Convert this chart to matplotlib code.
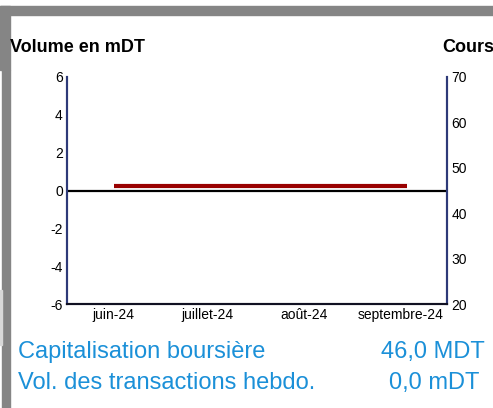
import numpy as np
import matplotlib
matplotlib.use('Agg')
import matplotlib.pyplot as plt
from matplotlib.patches import Rectangle
import datetime as dt

plt.rcParams['font.family'] = ['Liberation Sans', 'DejaVu Sans']
plt.rcParams['axes.unicode_minus'] = False

# weekly data
dates = ['2024-06-01', '2024-06-08', '2024-06-15', '2024-06-22', '2024-06-29',
         '2024-07-06', '2024-07-13', '2024-07-20', '2024-07-27', '2024-08-03',
         '2024-08-10', '2024-08-17', '2024-08-24', '2024-08-31', '2024-09-03']
cours = [46.0, 46.0, 46.0, 46.0, 46.0, 46.0, 46.0, 46.0, 46.0, 46.0,
         46.0, 46.0, 46.0, 46.0, 46.0]
volume = [0.0, 0.0, 0.0, 0.0, 0.0, 0.0, 0.0, 0.0, 0.0, 0.0,
          0.0, 0.0, 0.0, 0.0, 0.0]
month_ticks = ['2024-06-01', '2024-07-01', '2024-08-01', '2024-09-01']
month_labels = ['juin-24', 'juillet-24', 'août-24', 'septembre-24']
info_labels = ['Capitalisation boursière', 'Vol. des transactions hebdo.']
info_values = ['46,0 MDT', '0,0 mDT']

W, H = 493, 408
fig = plt.figure(figsize=(W / 100, H / 100), dpi=100)

# grey frame
def px_rect(x0, y0, x1, y1, color):
    fig.patches.append(Rectangle((x0 / W, 1 - y1 / H), (x1 - x0) / W, (y1 - y0) / H,
                                 transform=fig.transFigure, color=color, zorder=0))

px_rect(0, 6, W, 15, '#858585')
px_rect(0, 6, 10, 70, '#858585')
px_rect(2, 70, 10, H, '#858585')
px_rect(0, 290, 2, 345, '#d8d8d8')

x = [dt.datetime.strptime(d, '%Y-%m-%d') for d in dates]
xt = [dt.datetime.strptime(d, '%Y-%m-%d') for d in month_ticks]

ax = fig.add_axes([67 / W, 1 - 304 / H, (447 - 67) / W, (304 - 77) / H])
ax.bar(x, volume, width=5, color='#1f3f8f')
ax.set_ylim(-6, 6)
ax.set_yticks(np.arange(-6, 7, 2))
ax.set_xlim(dt.datetime(2024, 5, 17), dt.datetime(2024, 9, 16))
ax.set_xticks(xt)
ax.set_xticklabels(month_labels)
ax.axhline(0, color='black', lw=1.6, zorder=3)
ax.tick_params(length=0, labelsize=10, pad=3)

ax2 = ax.twinx()
ax2.plot(x, cours, color='#990000', lw=3, solid_capstyle='butt', zorder=4)
ax2.set_ylim(20, 70)
ax2.set_yticks(np.arange(20, 71, 10))
ax2.tick_params(length=0, labelsize=10, pad=3)

for a in (ax, ax2):
    a.spines['top'].set_visible(False)
    a.spines['left'].set_color('#2e3a78')
    a.spines['right'].set_color('#2e3a78')
    a.spines['left'].set_linewidth(1.5)
    a.spines['right'].set_linewidth(1.5)
    a.spines['bottom'].set_color('#111122')
    a.spines['bottom'].set_linewidth(1.5)

fig.text(10 / W, 1 - 47 / H, 'Volume en mDT', fontsize=13, fontweight='bold', va='center')
fig.text(442 / W, 1 - 47 / H, 'Cours', fontsize=13, fontweight='bold', va='center')

blue = '#1b90d8'
fig.text(18 / W, 1 - 352 / H, info_labels[0], fontsize=17, color=blue, va='center')
fig.text(18 / W, 1 - 383 / H, info_labels[1], fontsize=17, color=blue, va='center')
fig.text(433 / W, 1 - 352 / H, info_values[0], fontsize=17, color=blue, va='center', ha='center')
fig.text(434 / W, 1 - 383 / H, info_values[1], fontsize=17, color=blue, va='center', ha='center')

fig.savefig('out.png', dpi=100)
